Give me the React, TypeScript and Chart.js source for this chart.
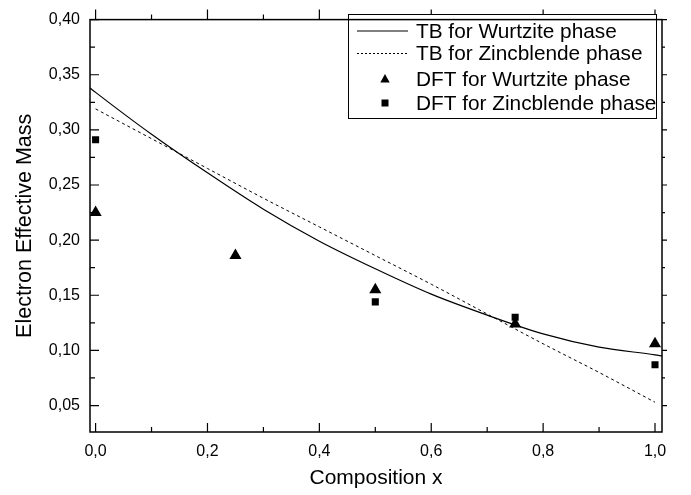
import React, { useEffect, useRef } from 'react';
import { Chart, registerables } from 'chart.js';

Chart.register(...registerables);

// ---- data ----
const dftWurtziteX = [0, 0.25, 0.5, 0.75, 1.0];
const dftWurtzite = [0.225, 0.186, 0.155, 0.124, 0.106];

const dftZincblendeX = [0, 0.5, 0.75, 1.0];
const dftZincblende = [0.291, 0.144, 0.13, 0.087];

const tbWurtziteX = [-0.01, 0, 0.1, 0.2, 0.3, 0.4, 0.5, 0.6, 0.7, 0.8, 0.9, 1.0, 1.0125];
const tbWurtzite = [0.338, 0.334, 0.296, 0.261, 0.228, 0.199, 0.174, 0.151, 0.132, 0.115, 0.103, 0.096, 0.095];

const tbZincblendeX = [0, 0.1, 0.2, 0.3, 0.4, 0.5, 0.6, 0.7, 0.8, 0.9, 1.0];
const tbZincblende = [0.319, 0.292, 0.265, 0.238, 0.212, 0.186, 0.16, 0.133, 0.106, 0.08, 0.053];

const xTickValues = [0, 0.2, 0.4, 0.6, 0.8, 1.0];
const xTickLabels = ['0,0', '0,2', '0,4', '0,6', '0,8', '1,0'];
const xMinorValues = [0.1, 0.3, 0.5, 0.7, 0.9];
const yTickValues = [0.05, 0.1, 0.15, 0.2, 0.25, 0.3, 0.35, 0.4];
const yTickLabels = ['0,05', '0,10', '0,15', '0,20', '0,25', '0,30', '0,35', '0,40'];
const yMinorValues = [0.075, 0.125, 0.175, 0.225, 0.275, 0.325, 0.375];

const legendLabels = [
  'TB for Wurtzite phase',
  'TB for Zincblende phase',
  'DFT for Wurtzite phase',
  'DFT for Zincblende phase',
];

const FONT = '"Liberation Sans", Arial, sans-serif';

const pts = (xs: number[], ys: number[]) => xs.map((x, i) => ({ x, y: ys[i] }));

const framePlugin = {
  id: 'originFrame',
  afterDraw(chart: any) {
    const ctx = chart.ctx as CanvasRenderingContext2D;
    const { left, right, top, bottom } = chart.chartArea;
    const xs = chart.scales.x;
    const ys = chart.scales.y;
    ctx.save();
    ctx.strokeStyle = '#000';
    ctx.fillStyle = '#000';

    // ticks
    ctx.lineWidth = 1.2;
    ctx.beginPath();
    xTickValues.forEach((v) => {
      const p = xs.getPixelForValue(v);
      ctx.moveTo(p, bottom);
      ctx.lineTo(p, bottom - 9);
      ctx.moveTo(p, top);
      ctx.lineTo(p, top - 10);
    });
    xMinorValues.forEach((v) => {
      const p = xs.getPixelForValue(v);
      ctx.moveTo(p, bottom);
      ctx.lineTo(p, bottom - 5);
      ctx.moveTo(p, top);
      ctx.lineTo(p, top - 5);
    });
    yTickValues.forEach((v) => {
      const p = ys.getPixelForValue(v);
      ctx.moveTo(left, p);
      ctx.lineTo(left + 9, p);
      ctx.moveTo(right, p);
      ctx.lineTo(right + 5, p);
    });
    yMinorValues.forEach((v) => {
      const p = ys.getPixelForValue(v);
      ctx.moveTo(left, p);
      ctx.lineTo(left + 5, p);
      ctx.moveTo(right, p);
      ctx.lineTo(right + 3, p);
    });
    ctx.stroke();

    // legend box
    const lx = 348, ly = 14, lw = 308, lh = 104;
    ctx.fillStyle = '#fff';
    ctx.fillRect(lx, ly, lw, lh);
    ctx.lineWidth = 1;
    ctx.strokeStyle = '#000';
    ctx.strokeRect(lx + 0.5, ly + 0.5, lw, lh);

    ctx.fillStyle = '#000';
    const rowY = [31, 53.5, 79, 103];
    // solid sample
    ctx.beginPath();
    ctx.lineWidth = 1.2;
    ctx.moveTo(357, rowY[0]);
    ctx.lineTo(408, rowY[0]);
    ctx.stroke();
    // dashed sample
    ctx.beginPath();
    ctx.lineWidth = 1;
    ctx.setLineDash([2, 2]);
    ctx.moveTo(357, rowY[1]);
    ctx.lineTo(408, rowY[1]);
    ctx.stroke();
    ctx.setLineDash([]);
    // triangle
    ctx.beginPath();
    ctx.moveTo(385, rowY[2] - 5);
    ctx.lineTo(389.7, rowY[2] + 3.5);
    ctx.lineTo(380.3, rowY[2] + 3.5);
    ctx.closePath();
    ctx.fill();
    // square
    ctx.fillRect(381.5, rowY[3] - 3.5, 7, 7);

    ctx.font = `20.8px ${FONT}`;
    ctx.textAlign = 'left';
    ctx.textBaseline = 'middle';
    legendLabels.forEach((t, i) => {
      ctx.fillText(t, 416, rowY[i] + 1);
    });

    // frame
    ctx.lineWidth = 1.5;
    ctx.strokeRect(left, top, right - left, bottom - top);
    ctx.restore();
  },
};

export default function App() {
  const ref = useRef<HTMLCanvasElement | null>(null);

  useEffect(() => {
    if (!ref.current) return;
    const chart = new Chart(ref.current, {
      type: 'scatter',
      data: {
        datasets: [
          {
            label: legendLabels[0],
            data: pts(tbWurtziteX, tbWurtzite),
            showLine: true,
            borderColor: '#000',
            backgroundColor: '#000',
            borderWidth: 1.2,
            pointRadius: 0,
            cubicInterpolationMode: 'monotone',
            fill: false,
          },
          {
            label: legendLabels[1],
            data: pts(tbZincblendeX, tbZincblende),
            showLine: true,
            borderColor: '#000',
            backgroundColor: '#000',
            borderWidth: 1,
            borderDash: [3, 3],
            pointRadius: 0,
            cubicInterpolationMode: 'monotone',
            fill: false,
          },
          {
            label: legendLabels[2],
            data: pts(dftWurtziteX, dftWurtzite),
            showLine: false,
            pointStyle: 'triangle',
            pointRadius: 7,
            backgroundColor: '#000',
            borderColor: '#000',
            borderWidth: 0,
          },
          {
            label: legendLabels[3],
            data: pts(dftZincblendeX, dftZincblende),
            showLine: false,
            pointStyle: 'rect',
            pointRadius: 5,
            backgroundColor: '#000',
            borderColor: '#000',
            borderWidth: 0,
          },
        ],
      },
      options: {
        responsive: false,
        animation: false,
        events: [],
        layout: { padding: { top: 13, right: 29, left: 0, bottom: 0 } },
        plugins: { legend: { display: false }, tooltip: { enabled: false } },
        scales: {
          x: {
            type: 'linear',
            min: -0.01,
            max: 1.0125,
            grid: { display: false, drawTicks: false },
            border: { display: false },
            ticks: {
              padding: 10,
              color: '#000',
              autoSkip: false,
              maxRotation: 0,
              font: { family: FONT, size: 16 },
              callback: (_v: any, i: number) => xTickLabels[i],
            },
            afterBuildTicks: (s: any) => {
              s.ticks = xTickValues.map((value) => ({ value }));
            },
            afterFit: (s: any) => {
              s.height = 63;
            },
            title: {
              display: true,
              text: 'Composition x',
              color: '#000',
              font: { family: FONT, size: 21 },
              padding: { top: 0, bottom: 4 },
            },
          },
          y: {
            type: 'linear',
            min: 0.026,
            max: 0.4,
            grid: { display: false, drawTicks: false },
            border: { display: false },
            ticks: {
              padding: 10,
              color: '#000',
              autoSkip: false,
              font: { family: FONT, size: 16 },
              callback: (_v: any, i: number) => yTickLabels[i],
            },
            afterBuildTicks: (s: any) => {
              s.ticks = yTickValues.map((value) => ({ value }));
            },
            afterFit: (s: any) => {
              s.width = 90;
            },
            title: {
              display: true,
              text: 'Electron Effective Mass',
              color: '#000',
              font: { family: FONT, size: 21.5 },
              padding: { top: 12, bottom: 0 },
            },
          },
        },
      },
      plugins: [framePlugin],
    } as any);
    return () => chart.destroy();
  }, []);

  return (
    <div style={{ position: 'fixed', left: 0, top: 0, width: 691, height: 495, background: '#fff' }}>
      <canvas ref={ref} width={691} height={495} style={{ width: 691, height: 495, display: 'block' }} />
    </div>
  );
}
